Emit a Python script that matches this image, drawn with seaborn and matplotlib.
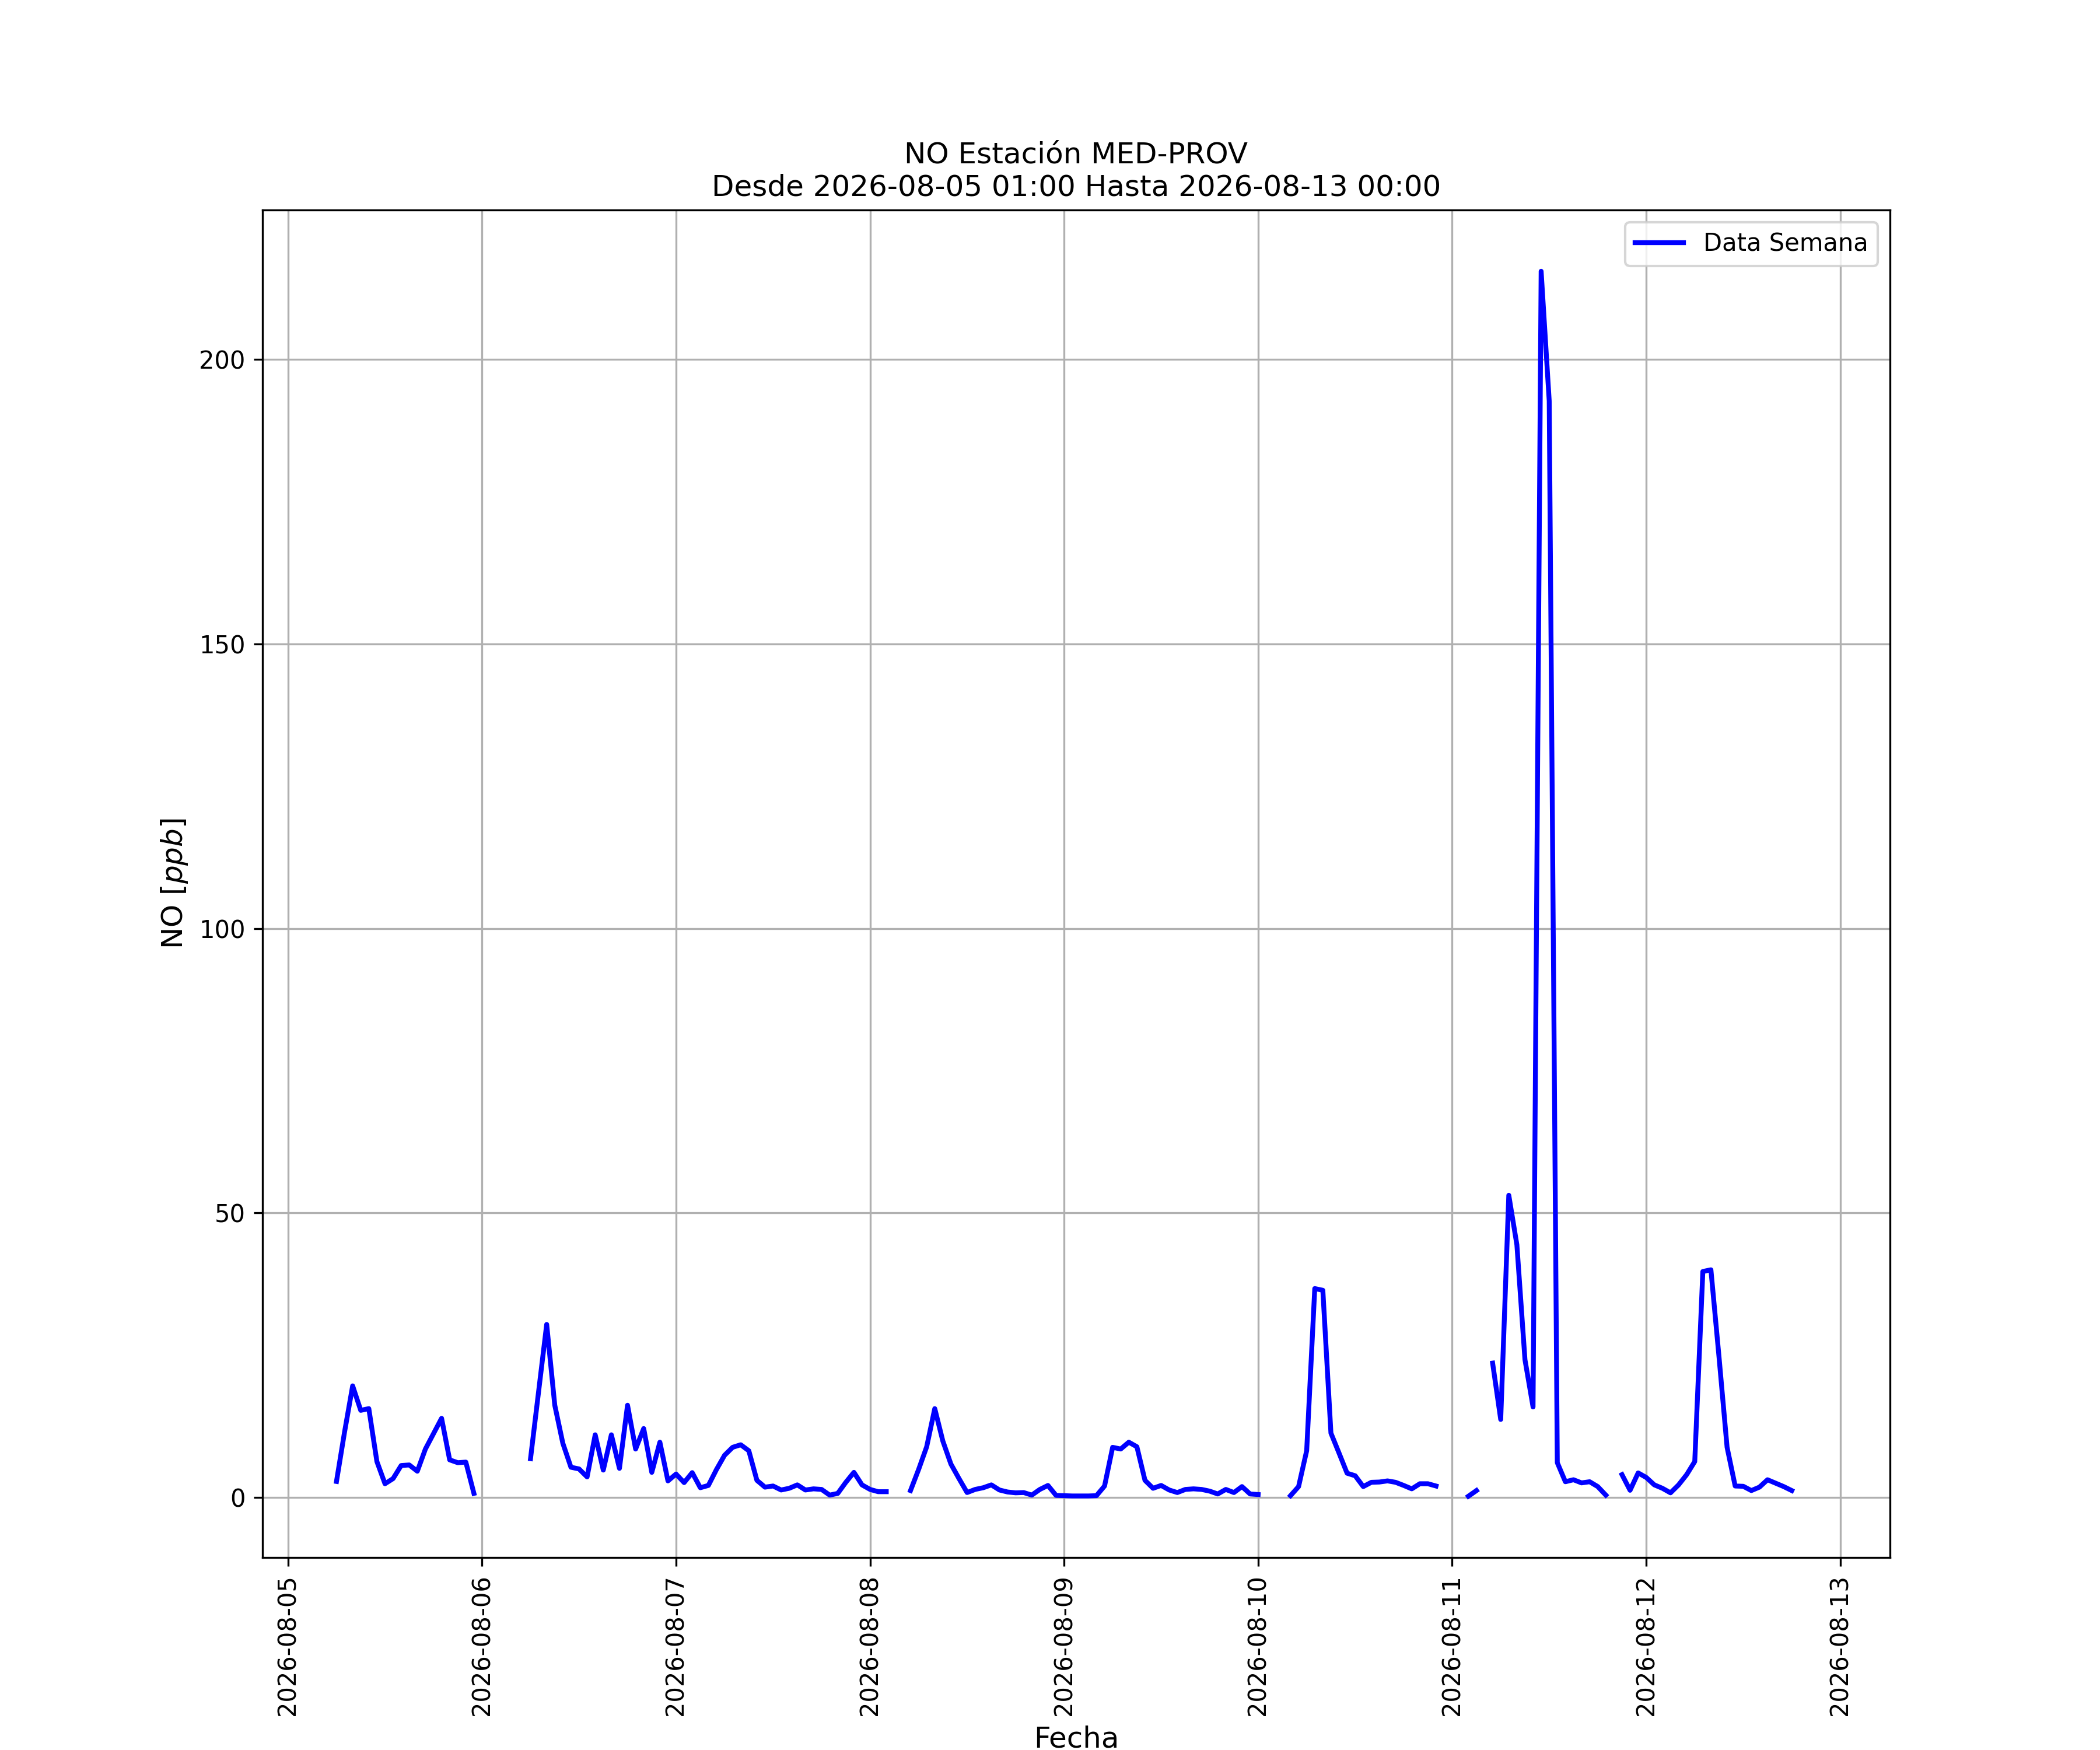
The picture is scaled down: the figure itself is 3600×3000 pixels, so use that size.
import numpy as np
import pandas as pd
import matplotlib
matplotlib.use("Agg")
import matplotlib.pyplot as plt
import matplotlib.dates as mdates
import seaborn as sns

nan = np.nan

contaminante = "NO"
estacion = "MED-PROV"
inicio = "2026-08-05 01:00"
fin = "2026-08-13 00:00"
etiqueta = "Data Semana"

# concentraciones horarias en ppb, de la hora 00 a la 23 de cada dia
dia_05 = [nan, nan, nan, nan, nan, nan, 2.8, 11.5, 19.6, 15.3, 15.6, 6.3,
          2.4, 3.3, 5.6, 5.7, 4.6, 8.5, 11.2, 13.9, 6.6, 6.1, 6.2, 0.7]
dia_06 = [nan, nan, nan, nan, nan, nan, 6.8, 18.6, 30.4, 16.2, 9.5, 5.3,
          5.0, 3.6, 11.0, 4.8, 11.0, 5.1, 16.2, 8.5, 12.1, 4.4, 9.7, 2.9]
dia_07 = [4.1, 2.6, 4.35, 1.7, 2.1, 4.9, 7.4, 8.8, 9.25, 8.2, 3.0, 1.8,
          2.0, 1.3, 1.6, 2.2, 1.3, 1.5, 1.4, 0.4, 0.7, 2.65, 4.4, 2.2]
dia_08 = [1.4, 1.0, 1.0, nan, nan, 1.2, 4.9, 8.9, 15.6, 9.9, 5.85, 3.3,
          0.85, 1.4, 1.7, 2.2, 1.3, 0.95, 0.8, 0.85, 0.4, 1.4, 2.1, 0.35]
dia_09 = [0.3, 0.25, 0.25, 0.25, 0.3, 2.0, 8.8, 8.5, 9.7, 8.9, 3.0, 1.6,
          2.1, 1.3, 0.85, 1.4, 1.5, 1.4, 1.1, 0.6, 1.4, 0.85, 1.9, 0.6]
dia_10 = [0.5, nan, nan, nan, 0.3, 1.9, 8.2, 36.7, 36.4, 11.3, 7.8, 4.25,
          3.8, 1.9, 2.65, 2.7, 2.9, 2.65, 2.1, 1.5, 2.4, 2.4, 2.0, nan]
dia_11 = [nan, nan, 0.2, 1.2, nan, 23.6, 13.7, 53.1, 44.4, 24.2, 15.9, 215.5,
          192.7, 6.1, 2.75, 3.1, 2.55, 2.75, 1.9, 0.4, nan, 4.0, 1.25, 4.3]
dia_12 = [3.5, 2.2, 1.6, 0.8, 2.2, 4.0, 6.3, 39.7, 40.0, 24.7, 8.8, 2.0,
          1.95, 1.2, 1.8, 3.1, 2.5, 1.9, 1.2, nan, nan, nan, nan, nan]
dia_13 = [nan]

# limites del eje x tal como quedan en la figura original
limite_x = ("2026-08-04 20:51", "2026-08-13 06:09")


def armar_tabla():
    valores = dia_05 + dia_06 + dia_07 + dia_08 + dia_09 + dia_10 + dia_11 + dia_12 + dia_13
    fechas = pd.date_range("2026-08-05 00:00", periods=len(valores), freq="h")
    df = pd.DataFrame({"fecha": fechas, "valor": valores})
    df = df[(df["fecha"] >= inicio) & (df["fecha"] <= fin)].copy()
    # cada hueco sin dato corta la linea: se numeran los tramos
    df["tramo"] = df["valor"].isna().cumsum()
    return df.dropna(subset=["valor"])


def graficar(df):
    fig = plt.figure(figsize=(12, 10), dpi=300)
    ax = fig.add_subplot(111)

    sns.lineplot(data=df, x="fecha", y="valor", units="tramo", estimator=None,
                 color="blue", linewidth=2, legend=False, ax=ax)

    ax.set_xlim(pd.Timestamp(limite_x[0]), pd.Timestamp(limite_x[1]))
    ax.xaxis.set_major_locator(mdates.DayLocator())
    ax.xaxis.set_major_formatter(mdates.DateFormatter("%Y-%m-%d"))
    ax.tick_params(axis="x", labelrotation=90)
    ax.grid(True)

    ax.set_title(f"{contaminante} Estación {estacion}\nDesde {inicio} Hasta {fin}", fontsize=12)
    ax.set_xlabel("Fecha", fontsize=12)
    ax.set_ylabel(f"{contaminante} $[ppb]$", fontsize=12)
    ax.legend([ax.lines[0]], [etiqueta], loc="upper right")

    fig.savefig("out.png", dpi=300)
    plt.close(fig)


if __name__ == "__main__":
    graficar(armar_tabla())
